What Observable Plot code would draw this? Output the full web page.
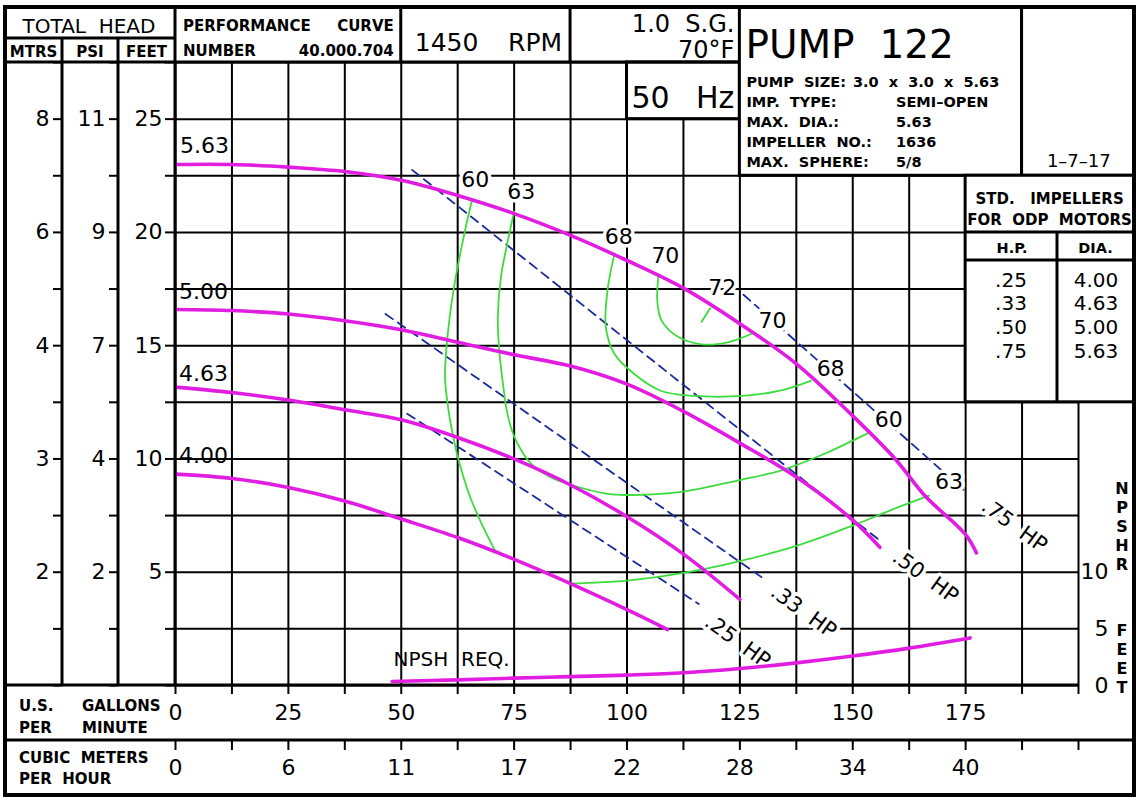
<!DOCTYPE html>
<html>
<head>
<meta charset="utf-8">
<script src="https://cdn.jsdelivr.net/npm/d3@7"></script>
<script src="https://cdn.jsdelivr.net/npm/@observablehq/plot@0.6"></script>
<style>
  html, body { margin: 0; padding: 0; background: #fff; }
  #chart svg { display: block; white-space: pre; }
</style>
</head>
<body>
<div id="chart"></div>
<script>
const FONT = "'DejaVu Sans', Verdana, sans-serif";
const MAGENTA = "#e21de2", GREEN = "#3ddc3d", NAVY = "#1b2a9a";

// ---------- axes / grid ----------
const gridGPM  = [0,12.5,25,37.5,50,62.5,75,87.5,100,112.5,125,137.5,150,162.5,175,187.5,200];
const gridFeet = [0,2.5,5,7.5,10,12.5,15,17.5,20,22.5,25,27.5];
const gpmTicks   = [0,25,50,75,100,125,150,175];
const gpmLabels  = ["0","25","50","75","100","125","150","175"];
const m3hLabels  = ["0","6","11","17","22","28","34","40"];
const headTicks  = [5,10,15,20,25];
const feetLabels = ["5","10","15","20","25"];
const psiLabels  = ["2","4","7","9","11"];
const mtrsLabels = ["2","3","4","6","8"];
const npshrTicks  = [0,5,10];
const npshrLetters = ["N","P","S","H","R"];
const feetLetters  = ["F","E","E","T"];

// ---------- impeller head curves (GPM, feet) ----------
const dia563 = [[0,23.0],[12.5,23.0],[25,22.88],[37.5,22.69],[50,22.3],[62.5,21.63],[75,20.83],[87.5,19.87],[100,18.76],[112.5,17.54],[125,15.97],[137.5,14.2],[150,11.9],[159.4,10.0],[166.1,8.35],[175,6.66],[177.4,5.85]];
const dia500 = [[0,16.6],[12.5,16.55],[25,16.4],[37.5,16.1],[50,15.7],[62.5,15.15],[75,14.6],[87.5,14.1],[100,13.3],[112.5,12.1],[125,10.7],[137.5,9.2],[150,7.3],[156,6.1]];
const dia463 = [[0,13.17],[12.5,12.93],[25,12.6],[37.5,12.17],[50,11.73],[62.5,10.95],[75,10.0],[87.5,8.85],[100,7.45],[112.5,5.8],[125,3.8]];
const dia400 = [[0,9.33],[12.5,9.14],[25,8.74],[37.5,8.14],[50,7.35],[62.5,6.53],[75,5.57],[87.5,4.5],[100,3.35],[109,2.47]];
const diaNames = ["5.63","5.00","4.63","4.00"];
const diaLabelPos = [[1.0,23.8],[0.8,17.35],[0.8,13.73],[0.8,10.15]];

// ---------- NPSH required (GPM, NPSHR feet) ----------
const npshReq = [[48,0.35],[62.5,0.5],[75,0.65],[87.5,0.78],[100,0.92],[112.5,1.12],[125,1.5],[137.5,2.0],[150,2.6],[162.5,3.3],[176,4.2]];

// ---------- efficiency contours (GPM, feet) ----------
const eff60L = [[65.7,21.44],[64.0,19.97],[61.6,17.47],[60.1,15.1],[59.7,13.6],[60.5,12.1],[61.6,10.9],[62.5,10.1],[65.3,8.3],[67.9,7.1],[70.9,5.9]];
const eff63L = [[75,20.93],[73.5,19.53],[72.1,18.06],[71.4,16.3],[71.7,14.8],[72.8,12.9],[73.4,12.1],[75,11.0],[78.7,9.8],[83.0,9.2],[87.7,8.85],[95.7,8.46],[100,8.41],[112.5,8.56],[125,9.07],[134.4,9.51],[144,10.25],[153.6,11.16]];
const eff68  = [[97.2,19.03],[95.7,17.47],[95.3,15.83],[97.2,14.64],[101.6,13.75],[107.6,13.0],[115,12.78],[125.4,12.78],[133.6,13.0],[140.7,13.45]];
const eff70  = [[107,18.14],[106.7,17.0],[107.6,16.13],[111.3,15.39],[116.5,15.06],[122.5,15.16],[127.7,15.54]];
const eff72  = [[118.4,16.65],[116.5,16.05]];
const eff63R = [[87.5,4.5],[100,4.63],[112.5,4.97],[125,5.49],[137.5,6.16],[150,7.06],[160.1,7.87],[166.9,8.38]];
const effNames  = ["60","63","68","70","72","70","68","60","63"];
const effLabelPos = [[66.4,22.3],[76.6,21.78],[98.2,19.79],[108.5,18.95],[121.1,17.54],[132.2,16.07],[145.1,13.98],[158.0,11.73],[171.3,8.98]];

// ---------- motor HP limit lines (GPM, feet) ----------
const hp75 = [[125.8,17.25],[175,8.56]];
const hp50 = [[52.4,22.76],[156.5,6.32]];
const hp33 = [[46.5,16.4],[130.4,4.7]];
const hp25 = [[51.3,12.0],[115.9,3.6]];
const hpNames = [".75  HP",".50  HP",".33  HP",".25  HP"];
const hpLabelPos = [[185.8,7.06],[166.1,4.81],[139.1,3.27],[124.5,1.95]];

// ---------- header / table texts ----------
const headTitle = "TOTAL  HEAD";
const unitCols = ["MTRS","PSI","FEET"];
const perfCurve = ["PERFORMANCE","CURVE","NUMBER","40.000.704"];
const rpmText = ["1450","RPM"];
const sgText = ["1.0  S.G.","70°F"];
const hzText = ["50","Hz"];
const pumpTitle = "PUMP  122";
const pumpSpecKeys = ["PUMP  SIZE:","IMP.  TYPE:","MAX.  DIA.:","IMPELLER  NO.:","MAX.  SPHERE:"];
const pumpSpecVals = ["3.0  x  3.0  x  5.63","SEMI–OPEN","5.63","1636","5/8"];
const dateText = "1–7–17";
const stdTitle = ["STD.   IMPELLERS","FOR  ODP  MOTORS"];
const stdHeads = ["H.P.","DIA."];
const stdHP  = [".25",".33",".50",".75"];
const stdDIA = ["4.00","4.63","5.00","5.63"];
const gpmTitle = [["U.S.","GALLONS"],["PER","MINUTE"]];
const m3hTitle = ["CUBIC  METERS","PER  HOUR"];
const npshTitle = "NPSH  REQ.";

// ---------- build tables ----------
const toRows = (arr, key) => arr.map(([q, h]) => ({q, h, key}));
const impRows = [dia563, dia500, dia463, dia400].flatMap((a, i) => toRows(a, diaNames[i]));
const effRows = [eff60L, eff63L, eff68, eff70, eff72, eff63R].flatMap((a, i) => toRows(a, "e" + i));
const hpRows  = [hp75, hp50, hp33, hp25].flatMap((a, i) => toRows(a, hpNames[i]));
const npshRows = npshReq.map(([q, n]) => ({q, n}));
const diaLabels = diaNames.map((t, i) => ({t, q: diaLabelPos[i][0], h: diaLabelPos[i][1]}));
const effLabels = effNames.map((t, i) => ({t, q: effLabelPos[i][0], h: effLabelPos[i][1]}));
const hpLabels  = hpNames.map((t, i) => ({t, q: hpLabelPos[i][0], h: hpLabelPos[i][1]}));
const lab = (labels) => d => { const i = headTicks.indexOf(d); return i >= 0 ? labels[i] : ""; };
const gpmFmt = (labels) => d => { const i = gpmTicks.indexOf(d); return i >= 0 ? labels[i] : ""; };

const chart = Plot.plot({
  width: 1140, height: 806,
  marginLeft: 175, marginRight: 62, marginTop: 62, marginBottom: 121,
  x: {domain: [0, 200], axis: null, label: null},
  y: {domain: [0, 27.5], axis: null, label: null},
  style: {fontFamily: FONT, fontSize: "14px", color: "black", background: "white", overflow: "visible"},
  marks: [
    Plot.ruleX(gridGPM, {stroke: "black", strokeWidth: 2}),
    Plot.ruleY(gridFeet, {stroke: "black", strokeWidth: 2}),
    // axes
    Plot.axisX(gridGPM, {anchor: "bottom", label: null, tickSize: 9, tickPadding: 10, tickFormat: gpmFmt(gpmLabels), fontSize: 22, strokeWidth: 2}),
    Plot.axisX(gridGPM, {anchor: "bottom", label: null, dy: 55, tickSize: 10, tickPadding: 9, tickFormat: gpmFmt(m3hLabels), fontSize: 22, strokeWidth: 2}),
    Plot.axisY(gridFeet, {anchor: "left", label: null, tickSize: 10, tickPadding: 3, tickFormat: lab(feetLabels), fontSize: 22, strokeWidth: 2}),
    Plot.axisY(gridFeet, {anchor: "left", label: null, dx: -57, tickSize: 9, tickPadding: 4, tickFormat: lab(psiLabels), fontSize: 22, strokeWidth: 2}),
    Plot.axisY(gridFeet, {anchor: "left", label: null, dx: -113, tickSize: 9, tickPadding: 4, tickFormat: lab(mtrsLabels), fontSize: 22, strokeWidth: 2}),
    Plot.axisY(npshrTicks.map(v => v / 2), {anchor: "right", label: null, tickSize: 0, tickPadding: 30, textAnchor: "end", tickFormat: d => String(d * 2), fontSize: 22}),
    // data
    Plot.line(hpRows, {x: "q", y: "h", z: "key", stroke: NAVY, strokeWidth: 1.8, strokeDasharray: "9,6"}),
    Plot.line(effRows, {x: "q", y: "h", z: "key", stroke: GREEN, strokeWidth: 1.8, curve: "catmull-rom"}),
    Plot.line(impRows, {x: "q", y: "h", z: "key", stroke: MAGENTA, strokeWidth: 3.6, curve: "catmull-rom"}),
    // labels
    Plot.text(diaLabels, {x: "q", y: "h", text: "t", textAnchor: "start", fontSize: 22, fill: "black"}),
    Plot.text(effLabels, {x: "q", y: "h", text: "t", fontSize: 22, fill: "black", stroke: "white", strokeWidth: 7}),
    Plot.text(hpLabels, {x: "q", y: "h", text: "t", rotate: 36, fontSize: 21, fill: "black", stroke: "white", strokeWidth: 7}),
    Plot.text([npshTitle], {x: 48.3, y: 1.15, text: d => d, textAnchor: "start", fontSize: 20, fill: "black"}),
    Plot.line(npshRows, {x: "q", y: d => d.n / 2, stroke: MAGENTA, strokeWidth: 3.6, curve: "catmull-rom"})
  ]
});
document.getElementById("chart").appendChild(chart);

// ---------- drawing frame (title block, tables) ----------
const X = v => chart.scale("x").apply(v);
const Y = v => chart.scale("y").apply(v);
const svg = d3.select(chart);
const ov = svg.append("g").attr("class", "title-block");
const OUT = {l: 5, t: 7, r: 1134, b: 795};
const colMtrs = 62, colPsi = 118, rowHead = 38, rowM3 = 740;

function box(x1, y1, x2, y2, sw = 3, fill = "white") {
  ov.append("rect").attr("x", x1).attr("y", y1).attr("width", x2 - x1).attr("height", y2 - y1)
    .attr("fill", fill).attr("stroke", "black").attr("stroke-width", sw);
}
function hline(x1, x2, y, sw = 3) {
  ov.append("line").attr("x1", x1).attr("x2", x2).attr("y1", y).attr("y2", y).attr("stroke", "black").attr("stroke-width", sw);
}
function vline(x, y1, y2, sw = 3) {
  ov.append("line").attr("x1", x).attr("x2", x).attr("y1", y1).attr("y2", y2).attr("stroke", "black").attr("stroke-width", sw);
}
function txt(x, y, s, {size = 15, weight = "bold", anchor = "start", baseline = null} = {}) {
  const t = ov.append("text").attr("x", x).attr("y", y).attr("font-family", FONT)
    .attr("font-size", size).attr("font-weight", weight).attr("text-anchor", anchor)
    .attr("fill", "black").style("white-space", "pre").text(s);
  if (baseline) t.attr("dominant-baseline", baseline);
  return t;
}

// boxes over the grid
box(X(100), Y(27.5), X(125), Y(25));
box(X(125), OUT.t, X(187.5), Y(22.5));
box(X(187.5), OUT.t, OUT.r, Y(22.5));
box(X(175), Y(22.5), OUT.r, Y(12.5));
// header row
hline(OUT.l, X(125), Y(27.5));
vline(X(50), OUT.t, Y(27.5));
vline(X(87.5), OUT.t, Y(27.5));
vline(X(0), OUT.t, Y(0));
hline(OUT.l, X(0), rowHead);
vline(colMtrs, rowHead, Y(0));
vline(colPsi, rowHead, Y(0));
// bottom rows
hline(OUT.l, X(200), Y(0));
hline(OUT.l, OUT.r, rowM3);
// impeller table internals
hline(X(175), OUT.r, Y(20));
hline(X(175), OUT.r, 260);
vline(1057, Y(20), Y(12.5));
// outer border
box(OUT.l, OUT.t, OUT.r, OUT.b, 4, "none");

// header texts
txt(89, 33, headTitle, {size: 20, weight: "normal", anchor: "middle"});
txt((OUT.l + colMtrs) / 2, 57, unitCols[0], {size: 15, anchor: "middle"});
txt((colMtrs + colPsi) / 2, 57, unitCols[1], {size: 15, anchor: "middle"});
txt((colPsi + X(0)) / 2, 57, unitCols[2], {size: 15, anchor: "middle"});
txt(X(0) + 8, 31, perfCurve[0], {size: 15});
txt(X(50) - 7, 31, perfCurve[1], {size: 15, anchor: "end"});
txt(X(0) + 8, 56, perfCurve[2], {size: 15});
txt(X(50) - 7, 56, perfCurve[3], {size: 15, anchor: "end"});
txt(X(50) + 14, 51, rpmText[0], {size: 25, weight: "normal"});
txt(X(87.5) - 8, 51, rpmText[1], {size: 25, weight: "normal", anchor: "end"});
txt(X(125) - 5, 32, sgText[0], {size: 24, weight: "normal", anchor: "end"});
txt(X(125) - 5, 58, sgText[1], {size: 24, weight: "normal", anchor: "end"});
txt(X(100) + 5, 108, hzText[0], {size: 30, weight: "normal"});
txt(X(125) - 5, 108, hzText[1], {size: 30, weight: "normal", anchor: "end"});
txt(X(125) + 6, 58, pumpTitle, {size: 39, weight: "normal"});
const specY = [87, 107, 127, 147, 167];
pumpSpecKeys.forEach((k, i) => {
  txt(X(125) + 7, specY[i], k, {size: 14.5});
  txt(i === 0 ? 853 : 896, specY[i], pumpSpecVals[i], {size: 14.5});
});
txt((X(187.5) + OUT.r) / 2 + 1, 167, dateText, {size: 18, weight: "normal", anchor: "middle"});
txt((X(175) + OUT.r) / 2, 204, stdTitle[0], {size: 15, anchor: "middle"});
txt((X(175) + OUT.r) / 2, 225, stdTitle[1], {size: 15, anchor: "middle"});
txt((X(175) + 1057) / 2 + 1, 253, stdHeads[0], {size: 14.5, anchor: "middle"});
txt((1057 + OUT.r) / 2, 253, stdHeads[1], {size: 14.5, anchor: "middle"});
const stdY = [287, 310, 334, 358];
stdHP.forEach((v, i) => txt(1011, stdY[i], v, {size: 20, weight: "normal", anchor: "middle"}));
stdDIA.forEach((v, i) => txt(1096, stdY[i], stdDIA[i], {size: 20, weight: "normal", anchor: "middle"}));

// bottom-left titles
txt(19, 711, gpmTitle[0][0], {size: 15});
txt(82, 711, gpmTitle[0][1], {size: 15});
txt(19, 733, gpmTitle[1][0], {size: 15});
txt(82, 733, gpmTitle[1][1], {size: 15});
txt(19, 763, m3hTitle[0], {size: 15});
txt(19, 784, m3hTitle[1], {size: 15});

// NPSHR vertical title
const npY = [488, 507, 526, 545, 564];
npshrLetters.forEach((c, i) => txt(1122, npY[i], c, {size: 16, anchor: "middle", baseline: "central"}));
const ftY = [630, 649, 668, 687];
feetLetters.forEach((c, i) => txt(1122, ftY[i], c, {size: 16, anchor: "middle", baseline: "central"}));
</script>
</body>
</html>
